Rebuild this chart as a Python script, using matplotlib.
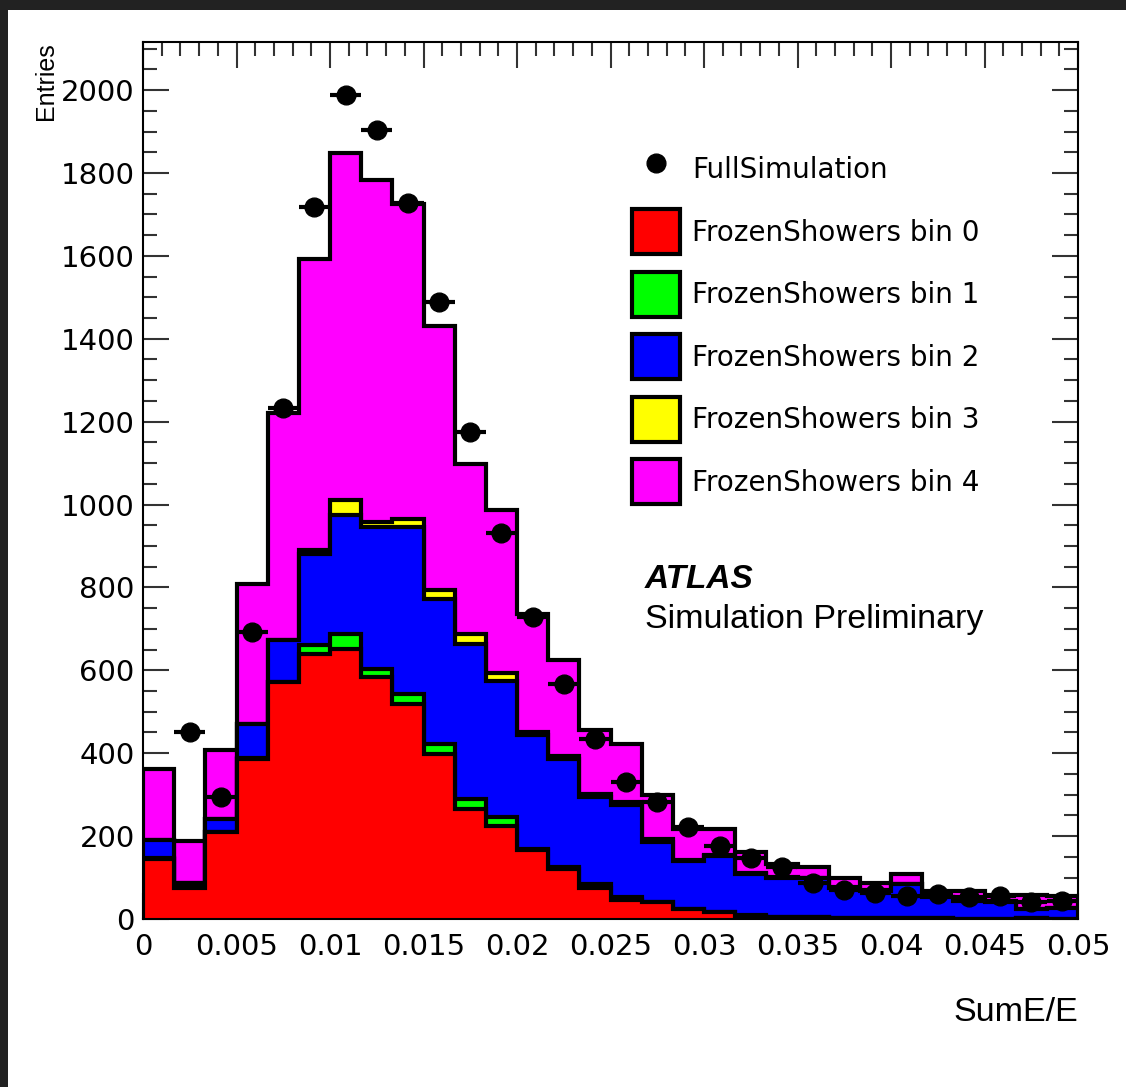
import numpy as np
import matplotlib.pyplot as plt
from matplotlib import font_manager
from matplotlib.patches import Patch, Rectangle
from matplotlib.lines import Line2D
from matplotlib.ticker import MultipleLocator

plt.rcParams['font.family'] = ['Liberation Sans', 'DejaVu Sans']

# 30 bins in SumE/E from 0 to 0.05
edges = np.linspace(0, 0.05, 31)

# entries per FrozenShowers energy bin (stacked in this order)
fs_bin0 = [145, 75, 209, 386, 571, 640, 652, 583, 519, 398, 266, 225, 167, 121, 76,
           45, 40, 24, 16, 8, 5, 5, 3, 3, 3, 3, 1, 1, 3, 1]
fs_bin1 = [2, 2, 2, 2, 2, 20, 36, 21, 24, 25, 24, 20, 3, 4, 9,
           8, 2, 1, 1, 1, 1, 0, 0, 0, 0, 0, 0, 0, 0, 0]
fs_bin2 = [43, 11, 30, 82, 99, 221, 286, 342, 403, 350, 374, 330, 273, 261, 209,
           221, 143, 116, 136, 100, 94, 93, 73, 65, 81, 49, 43, 41, 21, 25]
fs_bin3 = [0, 0, 0, 0, 2, 10, 36, 12, 20, 21, 24, 19, 8, 8, 8,
           8, 8, 2, 2, 2, 1, 1, 1, 1, 1, 1, 1, 1, 1, 1]
fs_bin4 = [172, 101, 167, 339, 546, 701, 837, 826, 758, 637, 409, 392, 285, 232, 153,
           141, 105, 74, 62, 50, 32, 27, 23, 19, 23, 15, 23, 15, 33, 28]

# full simulation reference
full_sim = [np.nan, 450, 295, 692, 1232, 1718, 1987, 1903, 1728, 1488, 1174, 931, 728, 567, 435,
            330, 282, 223, 177, 147, 126, 88, 70, 62, 56, 60, 52, 55, 40, 44]

labels = ['FrozenShowers bin 0', 'FrozenShowers bin 1', 'FrozenShowers bin 2',
          'FrozenShowers bin 3', 'FrozenShowers bin 4']
colors = ['#ff0000', '#00ff00', '#0000ff', '#ffff00', '#ff00ff']

fig = plt.figure(figsize=(11.26, 10.87), dpi=100, facecolor='#222222')
fig.patches.append(Rectangle((8 / 1126, 0), 1, 1 - 10 / 1087, transform=fig.transFigure,
                             facecolor='white', edgecolor='none', zorder=-10))
ax = fig.add_axes([143 / 1126, 1 - 919 / 1087, 935 / 1126, 877 / 1087])

layers = np.array([fs_bin0, fs_bin1, fs_bin2, fs_bin3, fs_bin4], dtype=float)
stack = np.cumsum(layers, axis=0)
# draw from the top of the stack down so each layer sits on the one below
for k in range(len(layers) - 1, -1, -1):
    ax.stairs(stack[k], edges, fill=True, facecolor=colors[k], edgecolor='black',
              linewidth=3, zorder=2 + (len(layers) - k) * 0.1)

centers = 0.5 * (edges[:-1] + edges[1:])
half = 0.5 * (edges[1] - edges[0])
ax.errorbar(centers, full_sim, xerr=half, fmt='o', color='black', ms=13.5,
            elinewidth=3, capsize=0, zorder=5)

ax.set_xlim(0, 0.05)
ax.set_ylim(0, 2116)
ax.xaxis.set_minor_locator(MultipleLocator(0.001))
ax.yaxis.set_major_locator(MultipleLocator(200))
ax.yaxis.set_minor_locator(MultipleLocator(50))
ax.set_xticks(np.arange(0, 0.0501, 0.005))
ax.set_xticklabels(['0', '0.005', '0.01', '0.015', '0.02', '0.025', '0.03', '0.035',
                    '0.04', '0.045', '0.05'])
ax.tick_params(which='both', direction='in', top=True, right=True, width=1.5,
               color='#333333', labelsize=21, labelfontfamily='DejaVu Sans')
ax.tick_params(which='major', length=19)
ax.tick_params(which='minor', length=10)
ax.tick_params(axis='x', pad=10)
ax.tick_params(axis='y', pad=6)
for s in ax.spines.values():
    s.set_linewidth(1.5)

ax.set_xlabel('SumE/E', loc='right', fontsize=24.5, labelpad=26)
# the y title is narrow in the original
installed = {f.name for f in font_manager.fontManager.ttflist}
if 'Liberation Sans Narrow' in installed:
    ax.set_ylabel('Entries', loc='top', fontsize=22, labelpad=2,
                  family='Liberation Sans Narrow')
else:
    ax.set_ylabel('Entries', loc='top', fontsize=18, labelpad=2)

handles = [Line2D([], [], marker='o', color='black', linestyle='none', ms=13.5)]
handles += [Patch(facecolor=c, edgecolor='black', linewidth=3) for c in colors]
ax.legend(handles, ['FullSimulation'] + labels, loc='upper left', frameon=False,
          bbox_to_anchor=(632 / 1126, 1 - 147 / 1087), bbox_transform=fig.transFigure,
          prop={'family': 'DejaVu Sans', 'size': 20}, handlelength=1.73,
          handleheight=2.1, labelspacing=0.64, handletextpad=0.43,
          borderpad=0, borderaxespad=0)

fig.text(645 / 1126, 1 - 588 / 1087, 'ATLAS', fontsize=24, fontweight='bold',
         fontstyle='italic')
fig.text(645 / 1126, 1 - 628 / 1087, 'Simulation Preliminary', fontsize=24.5)

fig.savefig('out.png', dpi=100, facecolor=fig.get_facecolor())
